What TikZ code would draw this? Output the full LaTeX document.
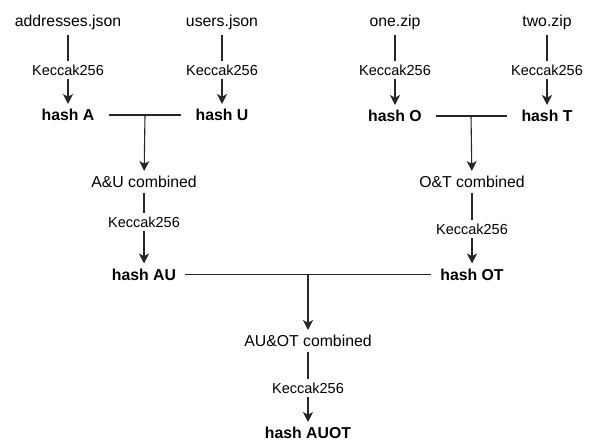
\documentclass[tikz,border=0pt]{standalone}
\usepackage{fontspec}
\setmainfont{Liberation Sans}
\usetikzlibrary{arrows.meta,calc}
\begin{document}
\begin{tikzpicture}[x=1pt,y=-1pt,
  label/.style={font=\fontsize{15.8}{18}\selectfont, inner xsep=4pt, inner ysep=5pt},
  hashnode/.style={font=\fontsize{15.8}{18}\selectfont\bfseries, inner xsep=9pt, inner ysep=5pt},
  kec/.style={font=\fontsize{14.5}{17}\selectfont, fill=white, inner xsep=2pt, inner ysep=3pt},
  link/.style={draw=black!85, line width=1.1pt},
  arr/.style={link, -{Stealth[length=10pt,width=10pt,inset=2.8pt]}}]
\useasboundingbox (0,0) rectangle (591,441);

% input files
\node[label] (addr) at (68,22) {addresses.json};
\node[label] (users) at (222,22) {users.json};
\node[label] (one) at (395,22) {one.zip};
\node[label] (two) at (547,22) {two.zip};

% first hash level
\node[kec] (k1) at (68,70) {Keccak256};
\node[kec] (k2) at (222,70) {Keccak256};
\node[kec] (k3) at (395,70) {Keccak256};
\node[kec] (k4) at (547,70) {Keccak256};
\node[hashnode] (hA) at (68,115) {hash A};
\node[hashnode] (hU) at (222,115) {hash U};
\node[hashnode] (hO) at (395,116) {hash O};
\node[hashnode] (hT) at (547,116) {hash T};

\foreach \s/\k/\t in {addr/k1/hA, users/k2/hU, one/k3/hO, two/k4/hT}{
  \draw[link] (\s) -- (\k);
  \draw[arr] (\k) -- (\t);
}

% pairwise combination
\node[label] (auc) at (144,182) {A\&U combined};
\node[label] (otc) at (472,182) {O\&T combined};
\draw[link, shorten <=5pt, shorten >=5pt] (hA) -- (hU);
\draw[link, shorten <=5pt, shorten >=5pt] (hO) -- (hT);
\coordinate (jau) at ($(hA)!0.5!(hU)$);
\coordinate (jot) at ($(hO)!0.5!(hT)$);
\draw[arr] (jau) -- (auc);
\draw[arr] (jot) -- (otc);

% second hash level
\node[kec] (k5) at (144,222) {Keccak256};
\node[kec] (k6) at (472,229) {Keccak256};
\node[hashnode] (hAU) at (144,274.5) {hash AU};
\node[hashnode] (hOT) at (472,274.5) {hash OT};
\draw[link] (auc) -- (k5);
\draw[arr] (k5) -- (hAU);
\draw[link] (otc) -- (k6);
\draw[arr] (k6) -- (hOT);

% final combination
\node[label] (all) at (308,341) {AU\&OT combined};
\draw[link] (hAU) -- (hOT);
\coordinate (jall) at ($(hAU)!0.5!(hOT)$);
\draw[arr] (jall) -- (all);
\node[kec] (k7) at (308,388) {Keccak256};
\node[hashnode] (hAUOT) at (308,433) {hash AUOT};
\draw[link] (all) -- (k7);
\draw[arr] (k7) -- (hAUOT);
\end{tikzpicture}
\end{document}
